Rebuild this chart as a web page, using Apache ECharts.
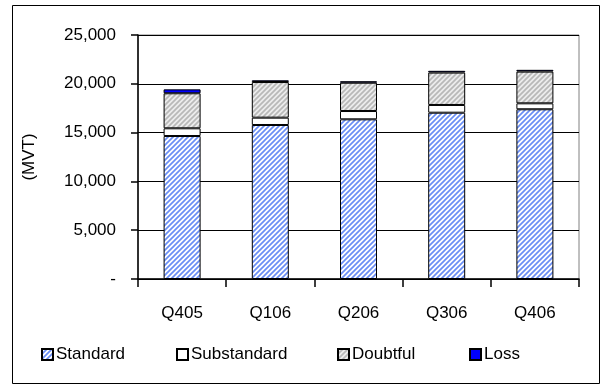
<!DOCTYPE html>
<html>
<head>
<meta charset="utf-8">
<script src="https://cdn.jsdelivr.net/npm/echarts@6/dist/echarts.min.js"></script>
<style>
  html, body { margin: 0; padding: 0; background: #fff; }
  #main { width: 603px; height: 389px; }
</style>
</head>
<body>
<div id="main"></div>
<script>
const quarters = ["Q405", "Q106", "Q206", "Q306", "Q406"];
const standard = [14650, 15780, 16360, 17040, 17390];
const substandard = [790, 750, 850, 790, 610];
const doubtful = [3590, 3650, 2900, 3320, 3250];
const loss = [400, 180, 150, 180, 180];

const FONT = "Liberation Sans";

// diagonal hatch fill like the old excel patterns
function hatch(line, bg) {
  const c = document.createElement("canvas");
  c.width = 5; c.height = 5;
  const ctx = c.getContext("2d");
  ctx.fillStyle = bg;
  ctx.fillRect(0, 0, 5, 5);
  ctx.strokeStyle = line;
  ctx.lineWidth = 1.7;
  ctx.beginPath();
  ctx.moveTo(-1, 6); ctx.lineTo(6, -1);
  ctx.moveTo(-1, 1); ctx.lineTo(1, -1);
  ctx.moveTo(4, 6); ctx.lineTo(6, 4);
  ctx.stroke();
  return { image: c, repeat: "repeat" };
}

const blueHatch = hatch("#6a8ef5", "#ffffff");
const grayHatch = hatch("#b8b8b8", "#ececec");

function bar(name, data, color) {
  return {
    name: name,
    type: "bar",
    stack: "total",
    barWidth: 37,
    data: data,
    itemStyle: { color: color, borderColor: "#000", borderWidth: 1 }
  };
}

function legendAt(name, left) {
  return {
    data: [name],
    left: left,
    top: 341,
    icon: "rect",
    itemWidth: 11,
    itemHeight: 11,
    itemGap: 0,
    textStyle: { fontFamily: FONT, fontSize: 17, color: "#000", padding: [0, 0, 0, -2] }
  };
}

let myChart = echarts.init(document.getElementById("main"));
myChart.setOption({
  animation: false,
  graphic: [{
    type: "rect",
    shape: { x: 12.5, y: 5.5, width: 587, height: 378 },
    style: { fill: null, stroke: "#000", lineWidth: 1 }
  }],
  legend: [
    legendAt("Standard", 36),
    legendAt("Substandard", 171),
    legendAt("Doubtful", 332),
    legendAt("Loss", 464)
  ],
  grid: {
    left: 138, right: 24, top: 35, bottom: 110,
    show: true, borderColor: "#808080", borderWidth: 1
  },
  xAxis: {
    type: "category",
    data: quarters,
    axisLine: { lineStyle: { color: "#000", width: 1.5 } },
    axisTick: { show: true, length: 8, lineStyle: { color: "#000", width: 1.5 } },
    axisLabel: { margin: 26, fontFamily: FONT, fontSize: 17, color: "#000" }
  },
  yAxis: {
    type: "value",
    min: 0,
    max: 25000,
    interval: 5000,
    name: "(MVT)",
    nameLocation: "middle",
    nameGap: 100,
    nameRotate: 90,
    nameTextStyle: { fontFamily: FONT, fontSize: 17, color: "#000" },
    axisLine: { show: true, lineStyle: { color: "#000", width: 1.5 } },
    axisTick: { show: true, length: 7, lineStyle: { color: "#000", width: 1.5 } },
    splitLine: { lineStyle: { color: "#000", width: 1 } },
    axisLabel: {
      margin: 22,
      fontFamily: FONT,
      fontSize: 17,
      color: "#000",
      formatter: function (v) {
        return v === 0 ? "-" : v.toLocaleString("en-US");
      }
    }
  },
  series: [
    bar("Standard", standard, blueHatch),
    bar("Substandard", substandard, "#ffffff"),
    bar("Doubtful", doubtful, grayHatch),
    bar("Loss", loss, "#0000ff")
  ]
});
</script>
</body>
</html>
